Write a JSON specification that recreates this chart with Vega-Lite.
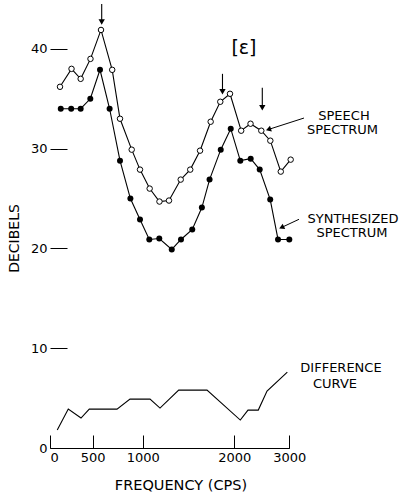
{
  "$schema": "https://vega.github.io/schema/vega-lite/v6.json",
  "width": 240,
  "height": 448,
  "autosize": "none",
  "padding": {"left": 50, "top": 0, "right": 117, "bottom": 49},
  "background": "white",
  "config": {
    "view": {"stroke": null},
    "font": "DejaVu Sans",
    "axis": {
      "grid": false,
      "domainColor": "black",
      "tickColor": "black",
      "labelColor": "black",
      "titleColor": "black",
      "labelFont": "DejaVu Sans",
      "titleFont": "DejaVu Sans",
      "labelFontSize": 13,
      "titleFontSize": 14.5,
      "titleFontWeight": "normal",
      "labelFlush": false,
      "labelOverlap": false,
      "domainWidth": 1.2,
      "tickWidth": 1
    }
  },
  "datasets": {
    "spectra": [
      {"s": "speech", "f": 117, "db": 36.2},
      {"s": "speech", "f": 252, "db": 38.0},
      {"s": "speech", "f": 359, "db": 37.0},
      {"s": "speech", "f": 474, "db": 39.0},
      {"s": "speech", "f": 583, "db": 41.9},
      {"s": "speech", "f": 695, "db": 37.9},
      {"s": "speech", "f": 773, "db": 33.0},
      {"s": "speech", "f": 890, "db": 29.9},
      {"s": "speech", "f": 973, "db": 27.9},
      {"s": "speech", "f": 1076, "db": 26.0},
      {"s": "speech", "f": 1183, "db": 24.7},
      {"s": "speech", "f": 1287, "db": 24.8},
      {"s": "speech", "f": 1415, "db": 26.9},
      {"s": "speech", "f": 1519, "db": 27.9},
      {"s": "speech", "f": 1626, "db": 29.8},
      {"s": "speech", "f": 1742, "db": 32.7},
      {"s": "speech", "f": 1847, "db": 34.7},
      {"s": "speech", "f": 1953, "db": 35.5},
      {"s": "speech", "f": 2125, "db": 31.8},
      {"s": "speech", "f": 2295, "db": 32.5},
      {"s": "speech", "f": 2491, "db": 31.8},
      {"s": "speech", "f": 2655, "db": 30.8},
      {"s": "speech", "f": 2845, "db": 27.7},
      {"s": "speech", "f": 3025, "db": 28.9},
      {"s": "synth", "f": 126, "db": 34.0},
      {"s": "synth", "f": 248, "db": 34.0},
      {"s": "synth", "f": 359, "db": 34.0},
      {"s": "synth", "f": 472, "db": 35.0},
      {"s": "synth", "f": 573, "db": 37.9},
      {"s": "synth", "f": 669, "db": 34.0},
      {"s": "synth", "f": 773, "db": 28.8},
      {"s": "synth", "f": 877, "db": 25.0},
      {"s": "synth", "f": 973, "db": 22.9},
      {"s": "synth", "f": 1072, "db": 20.9},
      {"s": "synth", "f": 1181, "db": 21.0},
      {"s": "synth", "f": 1317, "db": 19.9},
      {"s": "synth", "f": 1418, "db": 20.9},
      {"s": "synth", "f": 1541, "db": 21.9},
      {"s": "synth", "f": 1646, "db": 24.1},
      {"s": "synth", "f": 1730, "db": 26.9},
      {"s": "synth", "f": 1852, "db": 29.9},
      {"s": "synth", "f": 1961, "db": 32.0},
      {"s": "synth", "f": 2109, "db": 28.8},
      {"s": "synth", "f": 2298, "db": 29.0},
      {"s": "synth", "f": 2462, "db": 27.9},
      {"s": "synth", "f": 2653, "db": 24.9},
      {"s": "synth", "f": 2795, "db": 20.9},
      {"s": "synth", "f": 3000, "db": 20.9}
    ],
    "diff": [
      {"f": 85, "db": 1.8},
      {"f": 214, "db": 3.9},
      {"f": 363, "db": 3.0},
      {"f": 460, "db": 3.9},
      {"f": 743, "db": 3.9},
      {"f": 873, "db": 4.9},
      {"f": 1080, "db": 4.9},
      {"f": 1189, "db": 4.0},
      {"f": 1393, "db": 5.8},
      {"f": 1702, "db": 5.8},
      {"f": 2109, "db": 2.8},
      {"f": 2249, "db": 3.8},
      {"f": 2436, "db": 3.8},
      {"f": 2595, "db": 5.7},
      {"f": 2964, "db": 7.6}
    ],
    "arrows": [
      {"f": 590, "db": 44.5, "db2": 42.7},
      {"f": 1871, "db": 37.5, "db2": 35.7},
      {"f": 2509, "db": 36.1, "db2": 34.1}
    ],
    "pointers": [
      {"name": "speech", "f": 3267, "db": 33.07, "f2": 2636, "db2": 31.95},
      {"name": "synth", "f": 3176, "db": 22.92, "f2": 2874, "db2": 22.14}
    ],
    "notes": [
      {"kind": "vowel", "f": 2176, "db": 40.1, "label": "[ε]"},
      {"kind": "label", "f": 3994, "db": 33.25, "label": "SPEECH"},
      {"kind": "label", "f": 3967, "db": 31.9, "label": "SPECTRUM"},
      {"kind": "label", "f": 4158, "db": 23.0, "label": "SYNTHESIZED"},
      {"kind": "label", "f": 4140, "db": 21.5, "label": "SPECTRUM"},
      {"kind": "label", "f": 3940, "db": 7.97, "label": "DIFFERENCE"},
      {"kind": "label", "f": 3831, "db": 6.46, "label": "CURVE"}
    ]
  },
  "encoding": {
    "x": {
      "field": "f",
      "type": "quantitative",
      "scale": {"domain": [0, 500, 1000, 2000, 3000], "range": [0, 42.7, 92.7, 184.3, 239.3], "nice": false, "zero": false},
      "axis": {
        "values": [0, 500, 1000, 2000, 3000],
        "format": "d",
        "tickSize": -13,
        "labelPadding": 16,
        "labelAlign": {"expr": "datum.value === 0 ? 'left' : 'center'"},
        "title": "FREQUENCY (CPS)",
        "titleX": 130.5,
        "titleY": 41,
        "titleAlign": "center",
        "titleBaseline": "alphabetic",
        "titleAnchor": null
      }
    },
    "y": {
      "field": "db",
      "type": "quantitative",
      "scale": {"domain": [0, 44.9], "nice": false, "zero": false},
      "axis": {
        "values": [0, 10, 20, 30, 40],
        "tickSize": -17,
        "labelPadding": 20,
        "domain": false,
        "title": "DECIBELS",
        "titleFontSize": 14,
        "titleX": -36,
        "titleY": 238,
        "titleAngle": -90,
        "titleAlign": "center",
        "titleBaseline": "middle",
        "titleAnchor": null
      }
    }
  },
  "layer": [
    {
      "data": {"values": [{}]},
      "mark": {"type": "rule", "color": "black", "strokeWidth": 1.2},
      "encoding": {"x": {"datum": 0}, "y": {"datum": 0}, "y2": {"datum": 40}}
    },
    {
      "data": {"name": "spectra"},
      "transform": [{"filter": "datum.s === 'speech'"}],
      "mark": {"type": "line", "color": "black", "strokeWidth": 1.1}
    },
    {
      "data": {"name": "spectra"},
      "transform": [{"filter": "datum.s === 'synth'"}],
      "mark": {"type": "line", "color": "black", "strokeWidth": 1.1}
    },
    {
      "data": {"name": "spectra"},
      "transform": [{"filter": "datum.s === 'speech'"}],
      "mark": {"type": "point", "shape": "circle", "filled": true, "fill": "white", "stroke": "black", "strokeWidth": 1, "size": 30, "opacity": 1}
    },
    {
      "data": {"name": "spectra"},
      "transform": [{"filter": "datum.s === 'synth'"}],
      "mark": {"type": "circle", "color": "black", "size": 36, "opacity": 1}
    },
    {
      "data": {"name": "diff"},
      "mark": {"type": "line", "color": "black", "strokeWidth": 1.1}
    },
    {
      "data": {"name": "arrows"},
      "mark": {"type": "rule", "color": "black", "strokeWidth": 1.1},
      "encoding": {"y2": {"field": "db2"}}
    },
    {
      "data": {"name": "arrows"},
      "mark": {"type": "point", "shape": "triangle-down", "filled": true, "color": "black", "size": 40, "opacity": 1},
      "encoding": {"y": {"field": "db2", "type": "quantitative"}}
    },
    {
      "data": {"name": "pointers"},
      "mark": {"type": "rule", "color": "black", "strokeWidth": 1},
      "encoding": {"x2": {"field": "f2"}, "y2": {"field": "db2"}}
    },
    {
      "data": {"name": "pointers"},
      "transform": [{"filter": "datum.name === 'speech'"}],
      "mark": {"type": "point", "shape": "triangle", "filled": true, "color": "black", "size": 36, "opacity": 1, "angle": 252},
      "encoding": {"x": {"field": "f2", "type": "quantitative"}, "y": {"field": "db2", "type": "quantitative"}}
    },
    {
      "data": {"name": "pointers"},
      "transform": [{"filter": "datum.name === 'synth'"}],
      "mark": {"type": "point", "shape": "triangle", "filled": true, "color": "black", "size": 36, "opacity": 1, "angle": 245},
      "encoding": {"x": {"field": "f2", "type": "quantitative"}, "y": {"field": "db2", "type": "quantitative"}}
    },
    {
      "data": {"name": "notes"},
      "transform": [{"filter": "datum.kind === 'label'"}],
      "mark": {"type": "text", "font": "DejaVu Sans", "fontSize": 13, "color": "black", "align": "center", "baseline": "middle"},
      "encoding": {"text": {"field": "label"}}
    },
    {
      "data": {"name": "notes"},
      "transform": [{"filter": "datum.kind === 'vowel'"}],
      "mark": {"type": "text", "font": "DejaVu Sans", "fontSize": 19, "color": "black", "align": "center", "baseline": "middle"},
      "encoding": {"text": {"field": "label"}}
    }
  ]
}
